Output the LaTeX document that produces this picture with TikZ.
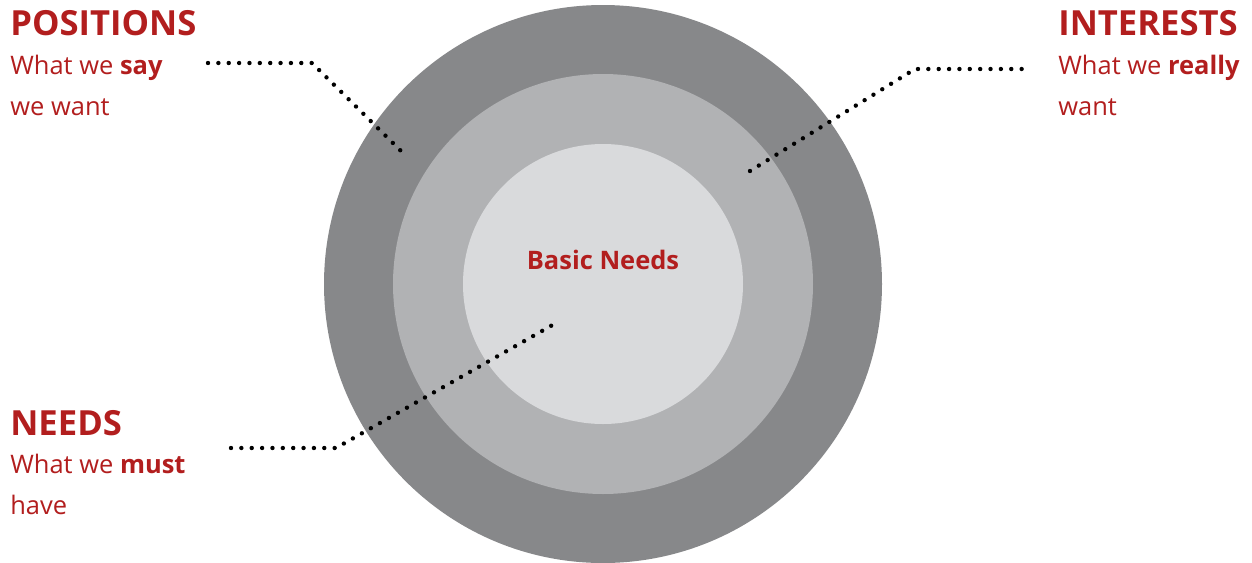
\documentclass[tikz,border=0pt]{standalone}
\usepackage{fontspec}
\setmainfont{Open Sans}
\usepackage{tikz}
\usetikzlibrary{positioning}

\definecolor{darkred}{RGB}{178,30,30}
\definecolor{ringout}{RGB}{135,136,138}
\definecolor{ringmid}{RGB}{177,178,180}
\definecolor{ringin}{RGB}{217,218,220}

\tikzset{
  title/.style={anchor=base west,inner sep=0pt,text=darkred,font=\fontsize{19.7}{24}\selectfont\bfseries},
  sub/.style={anchor=base west,inner sep=0pt,text=darkred,align=left,font=\fontsize{14.5}{23.2}\selectfont},
  dots/.style={line width=2.5pt,line cap=round,dash pattern=on 0pt off 5.9pt}
}

\begin{document}
\begin{tikzpicture}[x=0.02cm,y=-0.02cm]
\useasboundingbox (0,0) rectangle (1252,562);
\begin{scope}
\clip (0,0) rectangle (1252,562);
\fill[ringout] (603,284) circle [radius=279];
\fill[ringmid] (603,284) circle [radius=210];
\fill[ringin] (603,284) circle [radius=140];
\end{scope}

\node[font=\fontsize{14.5}{17}\selectfont\bfseries,text=darkred,anchor=base,inner sep=0pt] (basic) at (603,269) {Basic Needs};

\node[title] (positions) at (10,35) {POSITIONS};
\node[sub] (possub) at (10,115) {What we \textbf{say}\\we want};
\node[title] (interests) at (1058,35) {INTERESTS};
\node[sub] (intsub) at (1058,115) {What we \textbf{really}\\want};
\node[title] (needs) at (10,435) {NEEDS};
\node[sub] (needsub) at (10,514) {What we \textbf{must}\\have};

\coordinate (p1) at (208,63);
\coordinate (p2) at (312,63);
\coordinate (p3) at (401,151);
\coordinate (i1) at (1031,69);
\coordinate (i2) at (915,69);
\coordinate (i3) at (750,171);
\coordinate (n1) at (231,448);
\coordinate (n2) at (336,448);
\coordinate (n3) at (556,323);

\foreach \a/\b/\c in {p1/p2/p3,i3/i2/i1,n1/n2/n3}
  \draw[dots] (\a) -- (\b) -- (\c);
\end{tikzpicture}
\end{document}
